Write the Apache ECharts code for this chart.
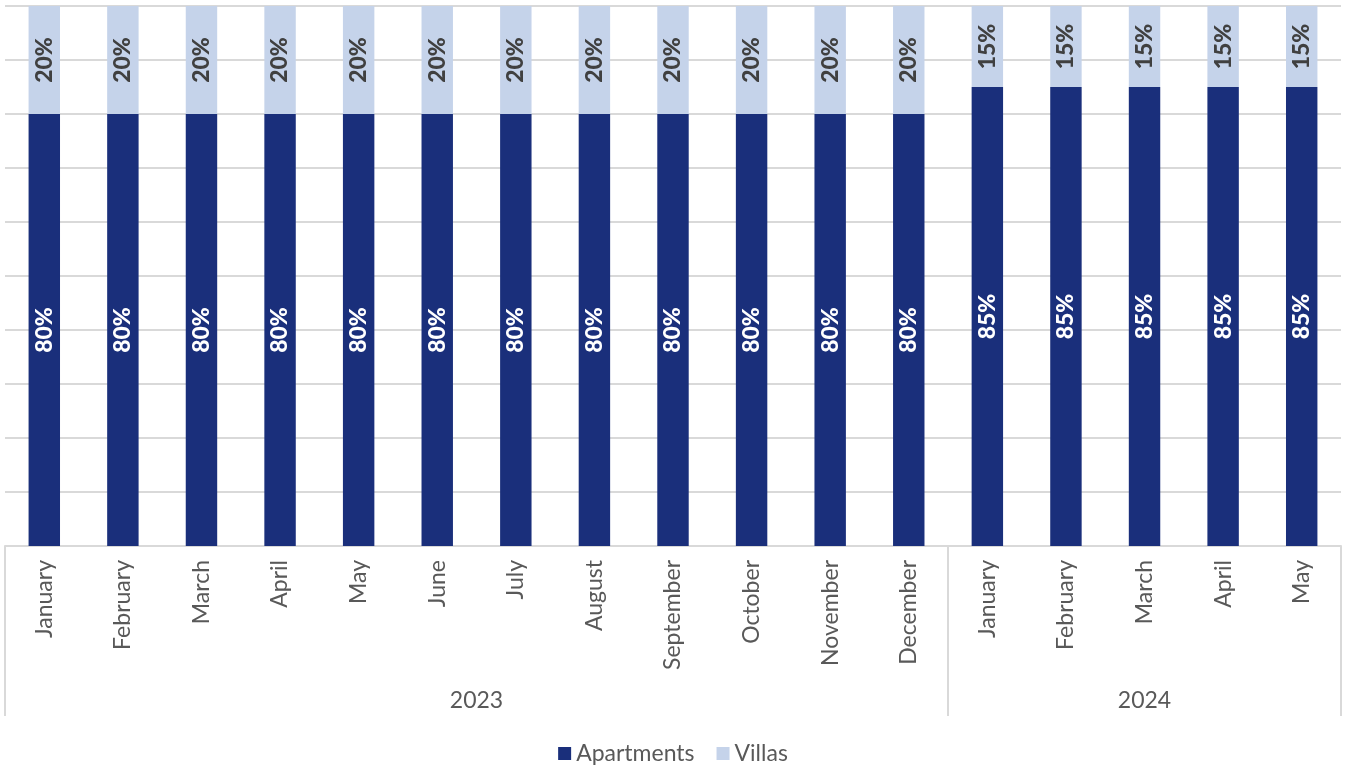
<!DOCTYPE html>
<html>
<head>
<meta charset="utf-8">
<title>Apartments vs Villas</title>
<script src="https://cdn.jsdelivr.net/npm/echarts@6/dist/echarts.min.js"></script>
<style>
  html, body { margin: 0; padding: 0; background: #fff; }
  #chart { width: 1346px; height: 765px; }
</style>
</head>
<body>
<div id="chart"></div>
<script>
// categories
var months = ['January', 'February', 'March', 'April', 'May', 'June', 'July', 'August',
  'September', 'October', 'November', 'December',
  'January', 'February', 'March', 'April', 'May']
var years = ['2023', '2024']
var yearSpans = [12, 5]

// share in %
var apartments = [80, 80, 80, 80, 80, 80, 80, 80, 80, 80, 80, 80, 85, 85, 85, 85, 85]
var villas = [20, 20, 20, 20, 20, 20, 20, 20, 20, 20, 20, 20, 15, 15, 15, 15, 15]

var FONT = 'Lato'
var GRAY = '#595959'
var LINE = '#d9d9d9'

// year group boundaries and centres on a 0..n scale (one unit per month)
var bounds = [0]
var centres = []
var yearAt = {}
yearSpans.forEach(function (s, i) {
  var start = bounds[bounds.length - 1]
  bounds.push(start + s)
  centres.push(start + s / 2)
  yearAt[start + s / 2] = years[i]
})

var chart = echarts.init(document.getElementById('chart'))

chart.setOption({
  animation: false,
  textStyle: { fontFamily: FONT },
  grid: { left: 5, right: 5, top: 6, bottom: 219 },
  legend: {
    data: ['Apartments', 'Villas'],
    top: 742,
    padding: 0,
    itemWidth: 13,
    itemHeight: 13,
    itemGap: 22,
    icon: 'rect',
    textStyle: { fontFamily: FONT, fontSize: 23, color: GRAY }
  },
  xAxis: [
    {
      type: 'category',
      data: months,
      axisLine: { lineStyle: { color: LINE, width: 2 } },
      axisTick: { show: false },
      axisLabel: {
        rotate: 90,
        interval: 0,
        margin: 14,
        fontFamily: FONT,
        fontSize: 23,
        color: GRAY
      }
    },
    {
      // year grouping row
      type: 'value',
      position: 'bottom',
      offset: 170,
      min: 0,
      max: months.length,
      axisLine: { show: false },
      splitLine: { show: false },
      axisTick: {
        inside: true,
        length: 170,
        customValues: bounds,
        lineStyle: { color: LINE, width: 2 }
      },
      axisLabel: {
        inside: true,
        margin: 4,
        customValues: centres,
        formatter: function (v) { return yearAt[v] || '' },
        fontFamily: FONT,
        fontSize: 23,
        color: GRAY
      }
    }
  ],
  yAxis: {
    type: 'value',
    min: 0,
    max: 100,
    interval: 10,
    axisLine: { show: false },
    axisTick: { show: false },
    axisLabel: { show: false },
    splitLine: { lineStyle: { color: LINE, width: 2 } }
  },
  series: [
    {
      name: 'Apartments',
      type: 'bar',
      stack: 'share',
      barWidth: '40%',
      itemStyle: { color: '#1a2f7b' },
      label: {
        show: true,
        position: 'inside',
        rotate: 90,
        formatter: '{c}%',
        fontFamily: FONT,
        fontWeight: 900,
        fontSize: 23,
        color: '#ffffff'
      },
      data: apartments
    },
    {
      name: 'Villas',
      type: 'bar',
      stack: 'share',
      barWidth: '40%',
      itemStyle: { color: '#c5d3ea' },
      label: {
        show: true,
        position: 'inside',
        rotate: 90,
        formatter: '{c}%',
        fontFamily: FONT,
        fontWeight: 900,
        fontSize: 23,
        color: '#404040'
      },
      data: villas
    }
  ]
})
</script>
</body>
</html>
